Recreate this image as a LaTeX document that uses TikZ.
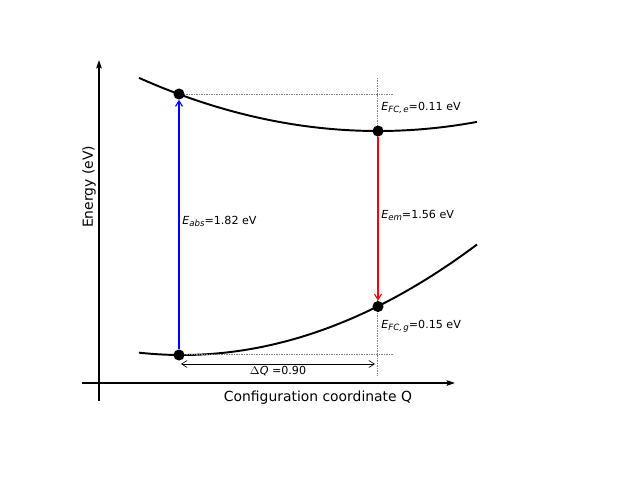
\documentclass[tikz,border=0pt]{standalone}
\usepackage{fontspec}
\setmainfont{DejaVu Sans}
\usetikzlibrary{arrows.meta}
\newcommand{\esub}[1]{{\itshape E}\raisebox{-0.35ex}{\fontsize{6.2}{6.2}\selectfont\itshape #1}}
\begin{document}
\begin{tikzpicture}[x=0.72pt,y=-0.72pt,
  axis/.style={line width=1.1pt,-{Stealth[length=6pt,width=4pt,inset=1pt]}},
  curve/.style={line width=1.4pt},
  ball/.style={circle,fill=black,inner sep=0pt,minimum size=8pt},
  guide/.style={gray,line width=0.35pt,dash pattern=on 0.6pt off 0.6pt},
  trans/.style={line width=0.8pt,-{Straight Barb[length=4pt,width=5pt]}},
  dq/.style={line width=0.45pt,{Straight Barb[length=4pt,width=5pt]}-{Straight Barb[length=4pt,width=5pt]}},
  lab/.style={font=\fontsize{8}{9.6}\selectfont,anchor=west,inner sep=0pt},
  axlab/.style={font=\fontsize{10}{12}\selectfont,inner sep=0pt}]
\useasboundingbox (0,0) rectangle (640,480);
% axes
\coordinate (yb) at (99,401);
\coordinate (yt) at (99,60);
\coordinate (xl) at (82,383);
\coordinate (xr) at (455,383);
\draw[axis] (yb) -- (yt);
\draw[axis] (xl) -- (xr);
% curves
\draw[curve] plot[domain=139:477,samples=100] (\x,{131-9.3*((\x-378)/100)^2});
\draw[curve] plot[domain=139:477,samples=100] (\x,{355-12.7*((\x-182)/100)^2});
% guide lines
\coordinate (he) at (394,94);
\coordinate (hg) at (394,354);
\coordinate (vt) at (377,78);
\coordinate (vb) at (377,375);
\coordinate (he0) at (179,94);
\coordinate (hg0) at (179,354);
\draw[guide] (he0) -- (he);
\draw[guide] (hg0) -- (hg);
\draw[guide] (vt) -- (vb);
% balls
\node[ball] (e0) at (179,94) {};
\node[ball] (e1) at (378,131) {};
\node[ball] (g0) at (179,355) {};
\node[ball] (g1) at (378,306.5) {};
% transitions
\draw[trans,blue] (g0) -- (e0);
\draw[trans,red] (e1) -- (g1);
% delta Q
\coordinate (dqa) at (181,364);
\coordinate (dqb) at (375,364);
\draw[dq] (dqa) -- (dqb);
\node[lab,anchor=center] (dql) at (278,371) {$\Delta${\itshape Q} =0.90};
% labels
\node[lab] (labs) at (182,221) {\esub{abs}=1.82 eV};
\node[lab] (lem) at (381,215) {\esub{em}=1.56 eV};
\node[lab] (lfe) at (381,108) {\esub{FC,\,e}=0.11 eV};
\node[lab] (lfg) at (381,326) {\esub{FC,\,g}=0.15 eV};
\node[axlab,rotate=90] (ylab) at (89,187) {Energy (eV)};
\node[axlab] (xlab) at (318,398) {Configuration coordinate Q};
\end{tikzpicture}
\end{document}
